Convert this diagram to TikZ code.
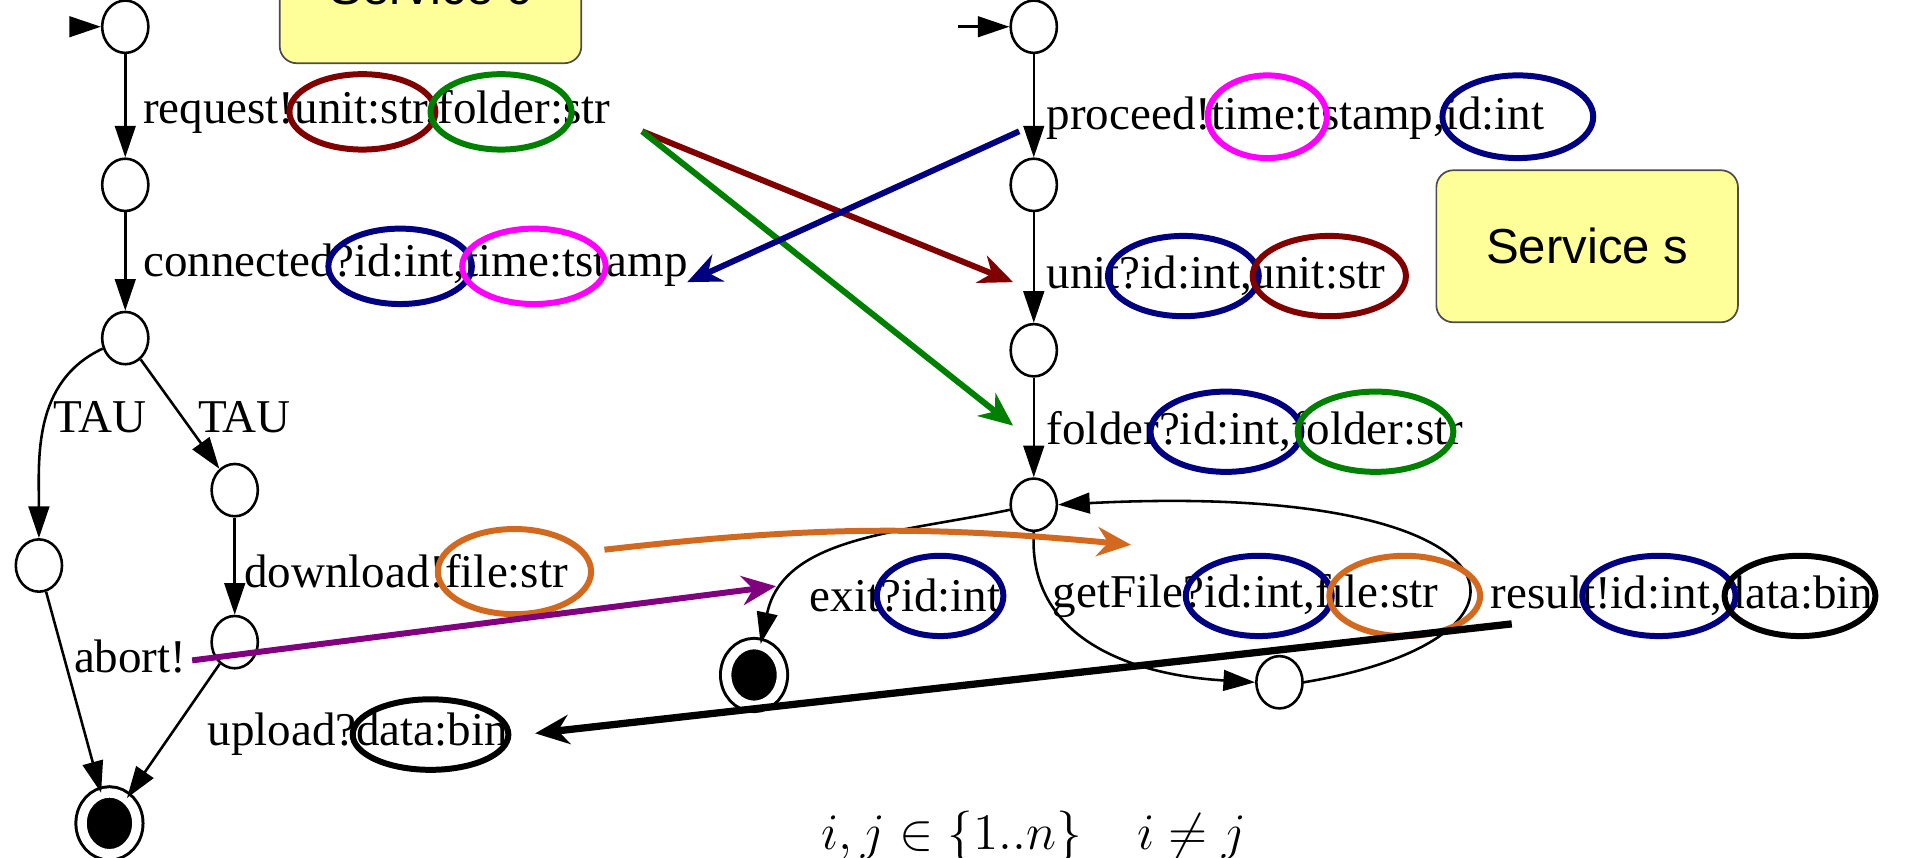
\documentclass[tikz,border=0pt]{standalone}
\usepackage{fontspec}
\setmainfont{Liberation Serif}
\newfontfamily\svcfont{Liberation Sans}
\usetikzlibrary{arrows.meta,shapes.geometric}
\definecolor{cUnit}{HTML}{800000}
\definecolor{cFold}{HTML}{008000}
\definecolor{cId}  {HTML}{000080}
\definecolor{cTime}{HTML}{FF00FF}
\definecolor{cFile}{HTML}{D2691E}
\definecolor{cAbrt}{HTML}{800080}
\definecolor{cBox} {HTML}{FFFF99}

\begin{document}
\begin{tikzpicture}[
    x=1cm,y=1cm,font=\fontsize{11}{13}\selectfont,
    >={Triangle[length=2.6mm,width=1.7mm]},
    st/.style ={ellipse,draw,line width=0.6pt,inner sep=0pt,
                minimum width=0.38cm,minimum height=0.43cm},
    fin/.style={st,fill=black,double=white,double distance=2.2pt,line width=0.7pt,
                minimum width=0.45cm,minimum height=0.50cm},
    ed/.style ={->,line width=0.6pt},
    lbl/.style={anchor=west,inner sep=0pt},
    hi/.style ={line width=1.4pt},
    car/.style={-{Stealth[length=2.8mm,width=2.4mm]},line width=1.4pt},
    svc/.style={draw=black!70,fill=cBox,rounded corners=1.4mm,
                minimum width=2.48cm,minimum height=1.25cm,
                font=\svcfont\fontsize{11.5}{13}\selectfont},
  ]
  \clip (0,0) rectangle (15.68,7.05);

  % ---------- SERVICE BOXES ----------
  \node[svc] (svcc) at (3.54,7.155) {Service c};
  \node[svc] (svcs) at (13.05,5.025) {Service s};

  % ---------- LEFT AUTOMATON (client) ----------
  \coordinate (li) at (0.60,6.83);
  \node[st]  (L0) at (1.03,6.83) {};
  \node[st]  (L1) at (1.03,5.53) {};
  \node[st]  (L2) at (1.03,4.27) {};
  \node[st]  (L3) at (1.93,3.02) {};
  \node[st]  (L4) at (0.32,2.40) {};
  \node[st]  (L5) at (1.93,1.77) {};
  \node[fin] (Lf) at (0.90,0.28) {};

  \draw[ed] (li) -- (L0);
  \draw[ed] (L0) -- (L1);
  \draw[ed] (L1) -- (L2);
  \draw[ed] (L2) to[out=205,in=90] (L4);
  \draw[ed] (L2) -- (L3);
  \draw[ed] (L3) -- (L5);
  \draw[ed] (L4) -- (Lf);
  \draw[ed] (L5) -- (Lf);

  \node[lbl] (lreq)  at (1.17,6.13) {request!unit:str,folder:str};
  \node[lbl] (lconn) at (1.17,4.87) {connected?id:int,time:tstamp};
  \node      (ltau1) at (0.82,3.62) {TAU};
  \node      (ltau2) at (2.01,3.62) {TAU};
  \node[lbl] (ldown) at (2.00,2.35) {download!file:str};
  \node      (labrt) at (1.07,1.65) {abort!};
  \node[lbl] (lup)   at (1.70,1.01) {upload?data:bin};

  % ---------- RIGHT AUTOMATON (service) ----------
  \coordinate (ri) at (7.88,6.83);
  \node[st]  (R0) at (8.50,6.83) {};
  \node[st]  (R1) at (8.50,5.53) {};
  \node[st]  (R2) at (8.50,4.17) {};
  \node[st]  (R3) at (8.50,2.90) {};
  \node[fin] (Rf) at (6.20,1.50) {};
  \node[st]  (R4) at (10.52,1.44) {};

  \draw[ed] (ri) -- (R0);
  \draw[ed] (R0) -- (R1);
  \draw[ed] (R1) -- (R2);
  \draw[ed] (R2) -- (R3);
  \draw[ed] (R3) to[out=192,in=78] (Rf);
  \draw[ed] (R3.south) .. controls (8.45,1.8) and (9.3,1.5) .. (R4.west);
  \draw[ed] (R4.east) .. controls (12.9,1.8) and (12.6,3.1) .. (R3.east);

  \node[lbl] (lproc) at (8.60,6.08) {proceed!time:tstamp,id:int};
  \node[lbl] (lunit) at (8.60,4.78) {unit?id:int,unit:str};
  \node[lbl] (lfold) at (8.60,3.50) {folder?id:int,folder:str};
  \node[lbl] (lexit) at (6.65,2.15) {exit?id:int};
  \node[lbl] (lget)  at (8.65,2.15) {getFile?id:int,file:str};
  \node[lbl] (lres)  at (12.25,2.15) {result!id:int,data:bin};

  % ---------- HIGHLIGHTED PARAMETERS ----------
  \draw[hi,cUnit] (2.98,6.13) ellipse [x radius=0.60,y radius=0.31];
  \draw[hi,cFold] (4.12,6.13) ellipse [x radius=0.58,y radius=0.31];
  \draw[hi,cId]   (3.29,4.86) ellipse [x radius=0.59,y radius=0.31];
  \draw[hi,cTime] (4.39,4.86) ellipse [x radius=0.59,y radius=0.31];
  \draw[hi,cFile] (4.23,2.35) ellipse [x radius=0.63,y radius=0.35];
  \draw[hi,black] (3.54,1.01) ellipse [x radius=0.64,y radius=0.29];
  \draw[hi,cTime] (10.42,6.09) ellipse [x radius=0.49,y radius=0.34];
  \draw[hi,cId]   (12.48,6.09) ellipse [x radius=0.62,y radius=0.34];
  \draw[hi,cId]   (9.73,4.78) ellipse [x radius=0.62,y radius=0.33];
  \draw[hi,cUnit] (10.93,4.78) ellipse [x radius=0.63,y radius=0.33];
  \draw[hi,cId]   (10.08,3.50) ellipse [x radius=0.62,y radius=0.33];
  \draw[hi,cFold] (11.31,3.50) ellipse [x radius=0.64,y radius=0.33];
  \draw[hi,cId]   (7.73,2.15) ellipse [x radius=0.52,y radius=0.33];
  \draw[hi,cId]   (10.35,2.15) ellipse [x radius=0.60,y radius=0.33];
  \draw[hi,cFile] (11.55,2.15) ellipse [x radius=0.62,y radius=0.33];
  \draw[hi,cId]   (13.64,2.15) ellipse [x radius=0.63,y radius=0.33];
  \draw[hi,black] (14.80,2.15) ellipse [x radius=0.62,y radius=0.33];

  % ---------- MATCHING ARROWS ----------
  \coordinate (reqo)  at (5.28,5.97);
  \coordinate (unitp) at (8.33,4.73);
  \coordinate (foldp) at (8.33,3.55);
  \coordinate (proco) at (8.38,5.97);
  \coordinate (connp) at (5.65,4.73);
  \coordinate (downo) at (4.97,2.53);
  \coordinate (getp)  at (9.30,2.57);
  \coordinate (abrto) at (1.58,1.62);
  \coordinate (exitp) at (6.38,2.23);
  \coordinate (reso)  at (12.43,1.92);
  \coordinate (upp)   at (4.40,1.02);

  \draw[car,cUnit] (reqo) -- (unitp);
  \draw[car,cFold] (reqo) -- (foldp);
  \draw[car,cId]   (proco) -- (connp);
  \draw[car,cFile] (downo) to[bend left=6] (getp);
  \draw[car,cAbrt] (abrto) -- (exitp);
  \draw[car,black,line width=1.7pt] (reso) -- (upp);

  \node (cond) at (8.50,0.17) {\fontsize{13}{15}\selectfont $i,j\in\{1..n\}\quad i\neq j$};

\end{tikzpicture}
\end{document}
